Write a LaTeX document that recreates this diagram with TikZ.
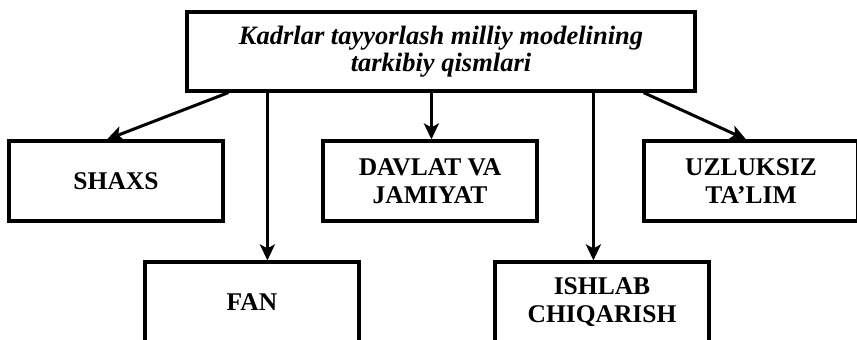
\documentclass[tikz,border=0pt]{standalone}
\usepackage{fontspec}
\setmainfont{Liberation Serif}
\usetikzlibrary{arrows.meta,calc}
\begin{document}
\begin{tikzpicture}[x=1pt,y=-1pt,
  box/.style={draw,line width=3.2pt,minimum width=214pt,minimum height=80pt,inner sep=0pt,
    align=center,font=\fontsize{25.5}{28}\selectfont\bfseries},
  conn/.style={line width=3pt,-{Stealth[length=16pt,width=15pt,inset=4pt]}}]
\useasboundingbox (0,0) rectangle (857,340);
\clip (0,0) rectangle (857,340);
\node[box,minimum width=508pt,minimum height=79pt,font=\fontsize{26.5}{27}\selectfont\bfseries\itshape] (top) at (441,51.5)
  {Kadrlar\ tayyorlash\ milliy\ modelining\\tarkibiy\ qismlari};
\node[box] (shaxs) at (116,181) {SHAXS};
\node[box] (davlat) at (430,181) {DAVLAT VA\\JAMIYAT};
\node[box] (uzl) at (751,181) {UZLUKSIZ\\TA'LIM};
\node[box] (fan) at (252,302) {FAN};
\node[box] (ish) at (602,302) {ISHLAB\\CHIQARISH};
\coordinate (s1) at ([xshift=43pt]top.south west);
\coordinate (s2) at ([xshift=82pt]top.south west);
\coordinate (s3) at ([xshift=246pt]top.south west);
\coordinate (s4) at ([xshift=408pt]top.south west);
\coordinate (s5) at ([xshift=-53pt]top.south east);
\draw[conn] (s1) -- ([xshift=-9pt]shaxs.north);
\draw[conn] (s2) -- (s2 |- fan.north);
\draw[conn] (s3) -- (s3 |- davlat.north);
\draw[conn] (s4) -- (s4 |- ish.north);
\draw[conn] (s5) -- ([xshift=-5pt]uzl.north);
\end{tikzpicture}
\end{document}
